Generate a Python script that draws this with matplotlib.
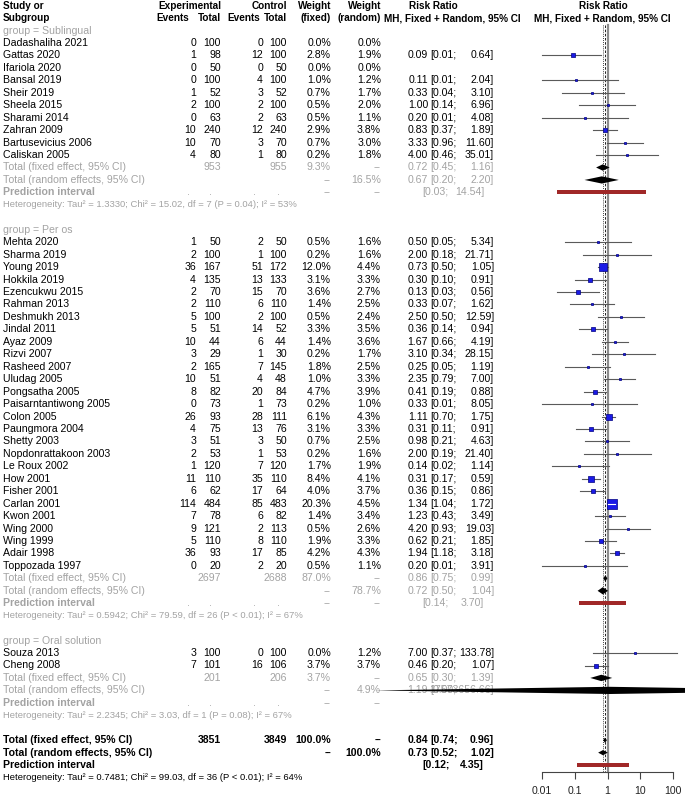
import matplotlib.pyplot as plt
import numpy as np

plt.rcParams['font.family'] = ['Liberation Sans', 'DejaVu Sans']

nan = np.nan

# ---- data -------------------------------------------------------------
groups = ['Sublingual', 'Per os', 'Oral solution']
group_size = [10, 27, 2]

studies = ['Dadashaliha 2021', 'Gattas 2020', 'Ifariola 2020', 'Bansal 2019', 'Sheir 2019',
           'Sheela 2015', 'Sharami 2014', 'Zahran 2009', 'Bartusevicius 2006', 'Caliskan 2005',
           'Mehta 2020', 'Sharma 2019', 'Young 2019', 'Hokkila 2019', 'Ezencukwu 2015',
           'Rahman 2013', 'Deshmukh 2013', 'Jindal 2011', 'Ayaz 2009', 'Rizvi 2007',
           'Rasheed 2007', 'Uludag 2005', 'Pongsatha 2005', 'Paisarntantiwong 2005', 'Colon 2005',
           'Paungmora 2004', 'Shetty 2003', 'Nopdonrattakoon 2003', 'Le Roux 2002', 'How 2001',
           'Fisher 2001', 'Carlan 2001', 'Kwon 2001', 'Wing 2000', 'Wing 1999',
           'Adair 1998', 'Toppozada 1997',
           'Souza 2013', 'Cheng 2008']
exp_events = [0, 1, 0, 0, 1, 2, 0, 10, 10, 4,
              1, 2, 36, 4, 2, 2, 5, 5, 10, 3, 2, 10, 8, 0, 26, 4, 3, 2, 1, 11, 6, 114, 7, 9, 5, 36, 0,
              3, 7]
exp_total = [100, 98, 50, 100, 52, 100, 63, 240, 70, 80,
             50, 100, 167, 135, 70, 110, 100, 51, 44, 29, 165, 51, 82, 73, 93, 75, 51, 53, 120, 110,
             62, 484, 78, 121, 110, 93, 20,
             100, 101]
ctl_events = [0, 12, 0, 4, 3, 2, 2, 12, 3, 1,
              2, 1, 51, 13, 15, 6, 2, 14, 6, 1, 7, 4, 20, 1, 28, 13, 3, 1, 7, 35, 17, 85, 6, 2, 8, 17, 2,
              0, 16]
ctl_total = [100, 100, 50, 100, 52, 100, 63, 240, 70, 80,
             50, 100, 172, 133, 70, 110, 100, 52, 44, 30, 145, 48, 84, 73, 111, 76, 50, 53, 120, 110,
             64, 483, 82, 113, 110, 85, 20,
             100, 106]
w_fixed = [0.0, 2.8, 0.0, 1.0, 0.7, 0.5, 0.5, 2.9, 0.7, 0.2,
           0.5, 0.2, 12.0, 3.1, 3.6, 1.4, 0.5, 3.3, 1.4, 0.2, 1.8, 1.0, 4.7, 0.2, 6.1, 3.1, 0.7, 0.2,
           1.7, 8.4, 4.0, 20.3, 1.4, 0.5, 1.9, 4.2, 0.5,
           0.0, 3.7]
w_random = [0.0, 1.9, 0.0, 1.2, 1.7, 2.0, 1.1, 3.8, 3.0, 1.8,
            1.6, 1.6, 4.4, 3.3, 2.7, 2.5, 2.4, 3.5, 3.6, 1.7, 2.5, 3.3, 3.9, 1.0, 4.3, 3.3, 2.5, 1.6,
            1.9, 4.1, 3.7, 4.5, 3.4, 2.6, 3.3, 4.3, 1.1,
            1.2, 3.7]
rr = [nan, 0.09, nan, 0.11, 0.33, 1.00, 0.20, 0.83, 3.33, 4.00,
      0.50, 2.00, 0.73, 0.30, 0.13, 0.33, 2.50, 0.36, 1.67, 3.10, 0.25, 2.35, 0.41, 0.33, 1.11,
      0.31, 0.98, 2.00, 0.14, 0.31, 0.36, 1.34, 1.23, 4.20, 0.62, 1.94, 0.20,
      7.00, 0.46]
rr_lo = [nan, 0.01, nan, 0.01, 0.04, 0.14, 0.01, 0.37, 0.96, 0.46,
         0.05, 0.18, 0.50, 0.10, 0.03, 0.07, 0.50, 0.14, 0.66, 0.34, 0.05, 0.79, 0.19, 0.01, 0.70,
         0.11, 0.21, 0.19, 0.02, 0.17, 0.15, 1.04, 0.43, 0.93, 0.21, 1.18, 0.01,
         0.37, 0.20]
rr_hi = [nan, 0.64, nan, 2.04, 3.10, 6.96, 4.08, 1.89, 11.60, 35.01,
         5.34, 21.71, 1.05, 0.91, 0.56, 1.62, 12.59, 0.94, 4.19, 28.15, 1.19, 7.00, 0.88, 8.05, 1.75,
         0.91, 4.63, 21.40, 1.14, 0.59, 0.86, 1.72, 3.49, 19.03, 1.85, 3.18, 3.91,
         133.78, 1.07]

# subgroup summaries
sg_exp_total = [953, 2697, 201]
sg_ctl_total = [955, 2688, 206]
sg_w_fixed = [9.3, 87.0, 3.7]
sg_w_random = [16.5, 78.7, 4.9]
sg_fix = [0.72, 0.86, 0.65]
sg_fix_lo = [0.45, 0.75, 0.30]
sg_fix_hi = [1.16, 0.99, 1.39]
sg_ran = [0.67, 0.72, 1.19]
sg_ran_lo = [0.20, 0.50, 8.1e-8]
sg_ran_hi = [2.20, 1.04, 17573656.66]
sg_pred_lo = [0.03, 0.14, nan]
sg_pred_hi = [14.54, 3.70, nan]
sg_het = ['Tau\u00b2 = 1.3330; Chi\u00b2 = 15.02, df = 7 (P = 0.04); I\u00b2 = 53%',
          'Tau\u00b2 = 0.5942; Chi\u00b2 = 79.59, df = 26 (P < 0.01); I\u00b2 = 67%',
          'Tau\u00b2 = 2.2345; Chi\u00b2 = 3.03, df = 1 (P = 0.08); I\u00b2 = 67%']

# overall
all_exp_total = 3851
all_ctl_total = 3849
all_fix, all_fix_lo, all_fix_hi = 0.84, 0.74, 0.96
all_ran, all_ran_lo, all_ran_hi = 0.73, 0.52, 1.02
all_pred_lo, all_pred_hi = 0.12, 4.35
all_het = 'Tau\u00b2 = 0.7481; Chi\u00b2 = 99.03, df = 36 (P < 0.01); I\u00b2 = 64%'

ticks = [0.01, 0.1, 1, 10, 100]

# ---- layout -----------------------------------------------------------
W, H = 685, 802
GRAY = '#a3a3a3'
FS = 7.6
FS_HDR = 7.2
FS_HET = 6.8


def ry(r):
    return 43.0 + (r - 3) * 12.45


X_STUDY = 3
X_EEV, X_ETOT, X_CEV, X_CTOT = 196, 221, 263, 287
X_WF, X_WR = 331, 381
X_EST, X_LO, X_HI = 428, 430, 494
X_PLO, X_PHI = 422, 484

fig = plt.figure(figsize=(W / 100, H / 100), dpi=100)
tx = fig.add_axes([0, 0, 1, 1])
tx.set_xlim(0, W)
tx.set_ylim(H, 0)
tx.axis('off')

AX_Y = 772
fa = fig.add_axes([541.7 / W, (H - AX_Y) / H, (673.3 - 541.7) / W, AX_Y / H])
fa.set_xscale('log')
fa.set_xlim(0.01, 100)
fa.set_ylim(AX_Y, 0)
fa.patch.set_visible(False)
for s in ['left', 'right', 'top']:
    fa.spines[s].set_visible(False)
fa.spines['bottom'].set_color('#444444')
fa.spines['bottom'].set_linewidth(0.8)
fa.set_yticks([])
fa.set_xticks(ticks)
fa.set_xticklabels(['0.01', '0.1', '1', '10', '100'])
fa.minorticks_off()
fa.tick_params(axis='x', length=5, width=0.8, color='#444444', labelsize=FS, pad=5,
               labelcolor='#222222')

px_per_dec = (673.3 - 541.7) / 4.0


def t(x, r, s, ha='right', color='black', weight='normal', size=FS, z=2):
    tx.text(x, ry(r), s, ha=ha, va='center', color=color, fontsize=size,
            fontweight=weight, zorder=z)


def hdr(x, r, s, ha='right'):
    t(x, r, s, ha=ha, weight='bold', size=FS_HDR)


def ci_text(r, est, lo, hi, color='black', weight='normal'):
    t(X_EST, r, f'{est:.2f}', color=color, weight=weight)
    t(X_LO, r, f'[{lo:.2f};', ha='left', color=color, weight=weight)
    t(X_HI, r, f'{hi:.2f}]', color=color, weight=weight)


def diamond(r, est, lo, hi, h=3.2):
    y = ry(r)
    fa.fill([lo, est, hi, est], [y, y - h, y, y + h], color='black', lw=0,
            zorder=5, clip_on=False)


def pred_bar(r, lo, hi, h=2.0):
    y = ry(r)
    fa.fill([lo, hi, hi, lo], [y - h, y - h, y + h, y + h], color='#a02828', lw=0,
            zorder=5, clip_on=False)


# header
hdr(X_STUDY, 0, 'Study or', ha='left')
hdr(X_STUDY, 1, 'Subgroup', ha='left')
hdr(X_ETOT, 0, 'Experimental')
hdr(189, 1, 'Events')
hdr(X_ETOT, 1, 'Total')
hdr(X_CTOT, 0, 'Control')
hdr(260, 1, 'Events')
hdr(X_CTOT, 1, 'Total')
hdr(X_WF, 0, 'Weight')
hdr(X_WF, 1, '(fixed)')
hdr(X_WR, 0, 'Weight')
hdr(X_WR, 1, '(random)')
hdr(433, 0, 'Risk Ratio', ha='center')
hdr(452, 1, 'MH, Fixed + Random, 95% CI', ha='center')
hdr(603, 0, 'Risk Ratio', ha='center')
hdr(602, 1, 'MH, Fixed + Random, 95% CI', ha='center')

# reference lines
fa.plot([1, 1], [25, AX_Y], color='#8c8c8c', lw=1.6, zorder=1, clip_on=False)
fa.plot([all_fix, all_fix], [25, AX_Y], color='black', lw=0.6, ls=(0, (3, 2)), zorder=1,
        clip_on=False)
fa.plot([all_ran, all_ran], [25, AX_Y], color='black', lw=0.6, ls=(0, (1, 1.5)), zorder=1,
        clip_on=False)

row = 2
i0 = 0
for g in range(len(groups)):
    t(X_STUDY, row, f'group = {groups[g]}', ha='left', color=GRAY)
    row += 1
    for i in range(i0, i0 + group_size[g]):
        t(X_STUDY, row, studies[i], ha='left')
        t(X_EEV, row, str(exp_events[i]))
        t(X_ETOT, row, str(exp_total[i]))
        t(X_CEV, row, str(ctl_events[i]))
        t(X_CTOT, row, str(ctl_total[i]))
        t(X_WF, row, f'{w_fixed[i]:.1f}%')
        t(X_WR, row, f'{w_random[i]:.1f}%')
        if not np.isnan(rr[i]):
            ci_text(row, rr[i], rr_lo[i], rr_hi[i])
            y = ry(row)
            side = max(10.0 * np.sqrt(w_fixed[i] / 20.3), 2.0)
            half_dec = side / 2 / px_per_dec
            inside = (np.log10(rr_lo[i]) > np.log10(rr[i]) - half_dec and
                      np.log10(rr_hi[i]) < np.log10(rr[i]) + half_dec)
            fa.plot([rr_lo[i], rr_hi[i]], [y, y], color='white' if inside else '#5a5a5a',
                    lw=0.8, zorder=4 if inside else 2, clip_on=False)
            fa.scatter([rr[i]], [y], s=(side * 0.72) ** 2, marker='s', facecolor='#1a1ae6',
                       edgecolor='#000080', linewidth=0.5, zorder=3, clip_on=False)
        row += 1
    i0 += group_size[g]

    # subgroup fixed
    t(X_STUDY, row, 'Total (fixed effect, 95% CI)', ha='left', color=GRAY)
    t(X_ETOT, row, str(sg_exp_total[g]), color=GRAY)
    t(X_CTOT, row, str(sg_ctl_total[g]), color=GRAY)
    t(X_WF, row, f'{sg_w_fixed[g]:.1f}%', color=GRAY)
    t(X_WR, row, '--', color=GRAY)
    ci_text(row, sg_fix[g], sg_fix_lo[g], sg_fix_hi[g], color=GRAY)
    diamond(row, sg_fix[g], sg_fix_lo[g], sg_fix_hi[g])
    row += 1
    # subgroup random
    t(X_STUDY, row, 'Total (random effects, 95% CI)', ha='left', color=GRAY)
    t(X_WF, row, '--', color=GRAY)
    t(X_WR, row, f'{sg_w_random[g]:.1f}%', color=GRAY)
    ci_text(row, sg_ran[g], sg_ran_lo[g], sg_ran_hi[g], color=GRAY)
    diamond(row, sg_ran[g], sg_ran_lo[g], sg_ran_hi[g], h=3.6)
    row += 1
    # prediction
    t(X_STUDY, row, 'Prediction interval', ha='left', color=GRAY, weight='bold')
    for xd in [190, 212, 256, 280]:
        t(xd, row, '.', color=GRAY)
    t(X_WF, row, '--', color=GRAY)
    t(X_WR, row, '--', color=GRAY)
    if not np.isnan(sg_pred_lo[g]):
        t(X_PLO, row, f'[{sg_pred_lo[g]:.2f};', ha='left', color=GRAY)
        t(X_PHI, row, f'{sg_pred_hi[g]:.2f}]', color=GRAY)
        pred_bar(row, sg_pred_lo[g], sg_pred_hi[g])
    row += 1
    t(X_STUDY, row, 'Heterogeneity: ' + sg_het[g], ha='left', color=GRAY, size=FS_HET)
    row += 2

# overall
t(X_STUDY, row, 'Total (fixed effect, 95% CI)', ha='left', weight='bold')
t(X_ETOT, row, str(all_exp_total), weight='bold')
t(X_CTOT, row, str(all_ctl_total), weight='bold')
t(X_WF, row, '100.0%', weight='bold')
t(X_WR, row, '--', weight='bold')
ci_text(row, all_fix, all_fix_lo, all_fix_hi, weight='bold')
diamond(row, all_fix, all_fix_lo, all_fix_hi, h=2.6)
row += 1
t(X_STUDY, row, 'Total (random effects, 95% CI)', ha='left', weight='bold')
t(X_WF, row, '--', weight='bold')
t(X_WR, row, '100.0%', weight='bold')
ci_text(row, all_ran, all_ran_lo, all_ran_hi, weight='bold')
diamond(row, all_ran, all_ran_lo, all_ran_hi, h=2.6)
row += 1
t(X_STUDY, row, 'Prediction interval', ha='left', weight='bold')
t(X_PLO, row, f'[{all_pred_lo:.2f};', ha='left', weight='bold')
t(X_PHI, row, f'{all_pred_hi:.2f}]', weight='bold')
pred_bar(row, all_pred_lo, all_pred_hi, h=1.6)
row += 1
t(X_STUDY, row, 'Heterogeneity: ' + all_het, ha='left', size=FS_HET)

fig.savefig('out.png', dpi=100)
